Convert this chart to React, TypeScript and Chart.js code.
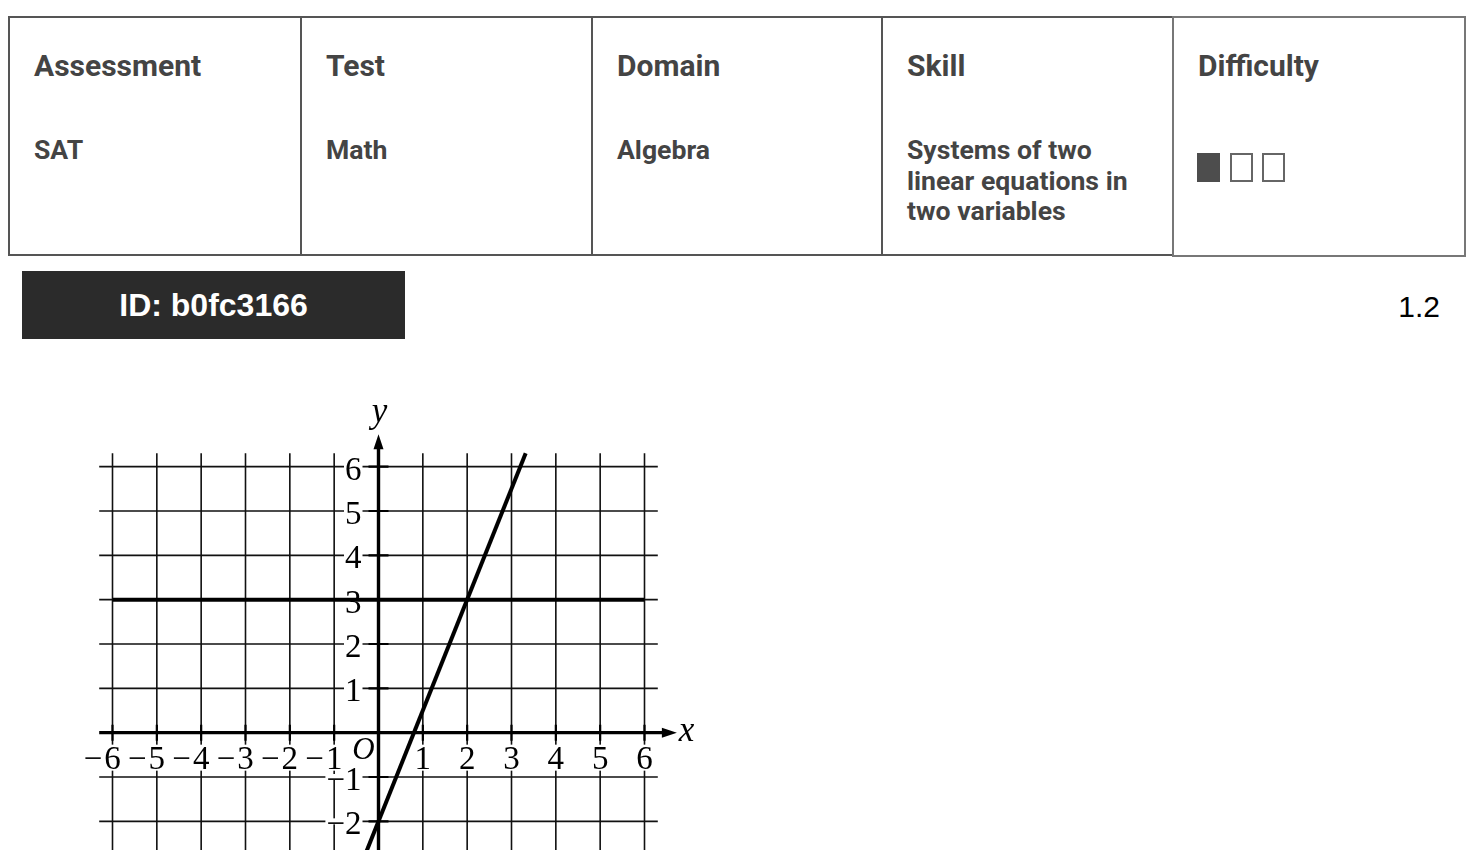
import React, { useEffect, useRef } from "react";
import { Chart, registerables } from "chart.js";

Chart.register(...registerables);

// ---------- data ----------
const HEADERS = ["Assessment", "Test", "Domain", "Skill", "Difficulty"];
const VALUES = ["SAT", "Math", "Algebra", "Systems of two linear equations in two variables"];
const DIFFICULTY_LEVEL = 1;
const DIFFICULTY_MAX = 3;
const QUESTION_ID = "b0fc3166";
const VERSION = "1.2";

const GRID_VALUES = [-6, -5, -4, -3, -2, -1, 0, 1, 2, 3, 4, 5, 6];
const X_TICK_VALUES = [-6, -5, -4, -3, -2, -1, 1, 2, 3, 4, 5, 6];
const X_TICK_LABELS = ["−6", "−5", "−4", "−3", "−2", "−1", "1", "2", "3", "4", "5", "6"];
const Y_TICK_VALUES = [-6, -5, -4, -3, -2, -1, 1, 2, 3, 4, 5, 6];
const Y_TICK_LABELS = ["−6", "−5", "−4", "−3", "−2", "−1", "1", "2", "3", "4", "5", "6"];

// y = 3
const LINE_A_X = [-6, 6];
const LINE_A_Y = [3, 3];
// y = 2.5x - 2
const LINE_B_X = [-1.72, 3.32];
const LINE_B_Y = [-6.3, 6.3];

// ---------- style / layout ----------
const COL_EDGES = [9, 301, 592, 882, 1173, 1465];
const GRID_EXTENT = 6.3;
const ARROW_TIP = 6.73;
const SERIF = "'Liberation Serif', 'DejaVu Serif', serif";

const graphPaper = {
  id: "graphPaper",
  beforeDatasetsDraw(chart: any) {
    const ctx: CanvasRenderingContext2D = chart.ctx;
    const xs = chart.scales.x;
    const ys = chart.scales.y;
    const px = (v: number) => xs.getPixelForValue(v);
    const py = (v: number) => ys.getPixelForValue(v);
    const ax = px(0);
    const ay = py(0);
    ctx.save();

    // grid lines
    ctx.strokeStyle = "#111";
    ctx.lineWidth = 1.6;
    ctx.beginPath();
    for (const v of GRID_VALUES) {
      if (v === 0) continue;
      ctx.moveTo(px(v), py(-GRID_EXTENT));
      ctx.lineTo(px(v), py(GRID_EXTENT));
      ctx.moveTo(px(-GRID_EXTENT), py(v));
      ctx.lineTo(px(GRID_EXTENT), py(v));
    }
    ctx.stroke();

    // tick marks on axes
    ctx.strokeStyle = "#000";
    ctx.lineWidth = 2.2;
    ctx.beginPath();
    for (const v of X_TICK_VALUES) {
      ctx.moveTo(px(v), ay - 8);
      ctx.lineTo(px(v), ay + 8);
    }
    for (const v of Y_TICK_VALUES) {
      ctx.moveTo(ax - 10, py(v));
      ctx.lineTo(ax + 10, py(v));
    }
    ctx.stroke();

    // axes
    const arrowLen = 15;
    const arrowHalf = 5;
    ctx.lineWidth = 3.4;
    ctx.beginPath();
    ctx.moveTo(px(-GRID_EXTENT), ay);
    ctx.lineTo(px(ARROW_TIP) - arrowLen + 2, ay);
    ctx.moveTo(ax, py(-GRID_EXTENT - 0.5));
    ctx.lineTo(ax, py(ARROW_TIP) + arrowLen - 2);
    ctx.stroke();
    ctx.fillStyle = "#000";
    ctx.beginPath();
    ctx.moveTo(px(ARROW_TIP), ay);
    ctx.lineTo(px(ARROW_TIP) - arrowLen, ay - arrowHalf);
    ctx.lineTo(px(ARROW_TIP) - arrowLen, ay + arrowHalf);
    ctx.closePath();
    ctx.fill();
    ctx.beginPath();
    ctx.moveTo(ax, py(ARROW_TIP));
    ctx.lineTo(ax - arrowHalf, py(ARROW_TIP) + arrowLen);
    ctx.lineTo(ax + arrowHalf, py(ARROW_TIP) + arrowLen);
    ctx.closePath();
    ctx.fill();

    // x tick labels (digit centred on the grid line, minus sign to its left)
    ctx.font = `33px ${SERIF}`;
    ctx.textBaseline = "alphabetic";
    X_TICK_VALUES.forEach((v, i) => {
      const label = X_TICK_LABELS[i];
      const neg = label.startsWith("−");
      const digits = label.replace("−", "");
      const wDig = ctx.measureText(digits).width;
      const wMin = neg ? ctx.measureText("−").width + 2 : 0;
      const cx = px(v);
      const digLeft = cx - wDig / 2;
      const base = ay + 36;
      ctx.fillStyle = "#fff";
      ctx.fillRect(digLeft - wMin - 1, base - 24, wDig + wMin + 2, 26);
      ctx.fillStyle = "#000";
      ctx.textAlign = "left";
      ctx.fillText(digits, digLeft, base);
      if (neg) {
        ctx.textAlign = "right";
        ctx.fillText("−", digLeft - 2, base);
      }
    });

    // y tick labels
    ctx.textAlign = "right";
    Y_TICK_VALUES.forEach((v, i) => {
      const label = Y_TICK_LABELS[i];
      const w = ctx.measureText(label).width;
      const right = ax - 17;
      const gy = py(v);
      ctx.fillStyle = "#fff";
      ctx.fillRect(right - w - 1, gy - 3, w + 2, 6);
      ctx.fillStyle = "#000";
      ctx.fillText(label, right, gy + 13);
    });

    // origin and axis names
    ctx.font = `italic 31px ${SERIF}`;
    ctx.textAlign = "center";
    ctx.fillText("O", ax - 15, ay + 26);
    ctx.font = `italic 35px ${SERIF}`;
    ctx.textAlign = "left";
    ctx.fillText("x", px(ARROW_TIP) + 2, ay + 8);
    ctx.textAlign = "center";
    ctx.fillText("y", ax + 1, py(ARROW_TIP) - 12);

    ctx.restore();
  },
};

function GraphChart() {
  const ref = useRef<HTMLCanvasElement | null>(null);
  useEffect(() => {
    if (!ref.current) return;
    const mk = (xs: number[], ys: number[]) => xs.map((x, i) => ({ x, y: ys[i] }));
    const chart = new Chart(ref.current, {
      type: "scatter",
      data: {
        datasets: [
          {
            data: mk(LINE_A_X, LINE_A_Y),
            showLine: true,
            borderColor: "#000",
            borderWidth: 4,
            pointRadius: 0,
            fill: false,
            borderCapStyle: "butt",
          },
          {
            data: mk(LINE_B_X, LINE_B_Y),
            showLine: true,
            borderColor: "#000",
            borderWidth: 4,
            pointRadius: 0,
            fill: false,
            borderCapStyle: "butt",
          },
        ],
      },
      options: {
        animation: false,
        responsive: false,
        devicePixelRatio: 1,
        layout: { padding: 0 },
        plugins: { legend: { display: false }, tooltip: { enabled: false } },
        scales: {
          x: { type: "linear", min: -7.5, max: 7.5, display: false },
          y: { type: "linear", min: -7, max: 8, display: false },
        },
      } as any,
      plugins: [graphPaper],
    });
    return () => chart.destroy();
  }, []);
  return (
    <canvas
      ref={ref}
      width={665}
      height={665}
      style={{ position: "absolute", left: 46, top: 378, width: 665, height: 665 }}
    />
  );
}

export default function App() {
  const textColor = "#444";
  return (
    <div
      style={{
        position: "fixed",
        inset: 0,
        overflow: "hidden",
        background: "#fff",
        fontFamily: "Roboto, 'Noto Sans', sans-serif",
      }}
    >
      {HEADERS.map((h, i) => {
        const x0 = COL_EDGES[i];
        const x1 = COL_EDGES[i + 1];
        const last = i === HEADERS.length - 1;
        return (
          <React.Fragment key={h}>
            <div
              style={{
                position: "absolute",
                left: x0 - 1,
                top: last ? 15.5 : 16,
                width: x1 - x0 + 2,
                height: last ? 241 : 240,
                border: `2px solid ${last ? "#777" : "#555"}`,
                boxSizing: "border-box",
              }}
            />
            <div
              style={{
                position: "absolute",
                left: x0 + 25,
                top: 48,
                fontSize: 30,
                fontWeight: 700,
                lineHeight: "36px",
                color: textColor,
                whiteSpace: "nowrap",
              }}
            >
              {h}
            </div>
            {i < VALUES.length && (
              <div
                style={{
                  position: "absolute",
                  left: x0 + 25,
                  top: 135,
                  width: 250,
                  fontSize: 26.6,
                  fontWeight: 700,
                  lineHeight: "30.5px",
                  color: textColor,
                }}
              >
                {VALUES[i]}
              </div>
            )}
          </React.Fragment>
        );
      })}
      {Array.from({ length: DIFFICULTY_MAX }).map((_, k) => (
        <div
          key={k}
          style={{
            position: "absolute",
            left: 1197 + k * 32.5,
            top: 153,
            width: 23,
            height: 29,
            boxSizing: "border-box",
            background: k < DIFFICULTY_LEVEL ? "#4d4d4d" : "#fff",
            border: k < DIFFICULTY_LEVEL ? "none" : "2px solid #666",
          }}
        />
      ))}
      <div
        style={{
          position: "absolute",
          left: 22,
          top: 271,
          width: 383,
          height: 68,
          background: "#2b2b2b",
          color: "#fff",
          fontFamily: "'Liberation Sans', Arial, sans-serif",
          fontWeight: 700,
          fontSize: 32,
          lineHeight: "68px",
          textAlign: "center",
        }}
      >
        ID: {QUESTION_ID}
      </div>
      <div
        style={{
          position: "absolute",
          right: 36,
          top: 290,
          fontFamily: "'Liberation Sans', Arial, sans-serif",
          fontSize: 30,
          lineHeight: "34px",
          color: "#000",
        }}
      >
        {VERSION}
      </div>
      <GraphChart />
    </div>
  );
}
